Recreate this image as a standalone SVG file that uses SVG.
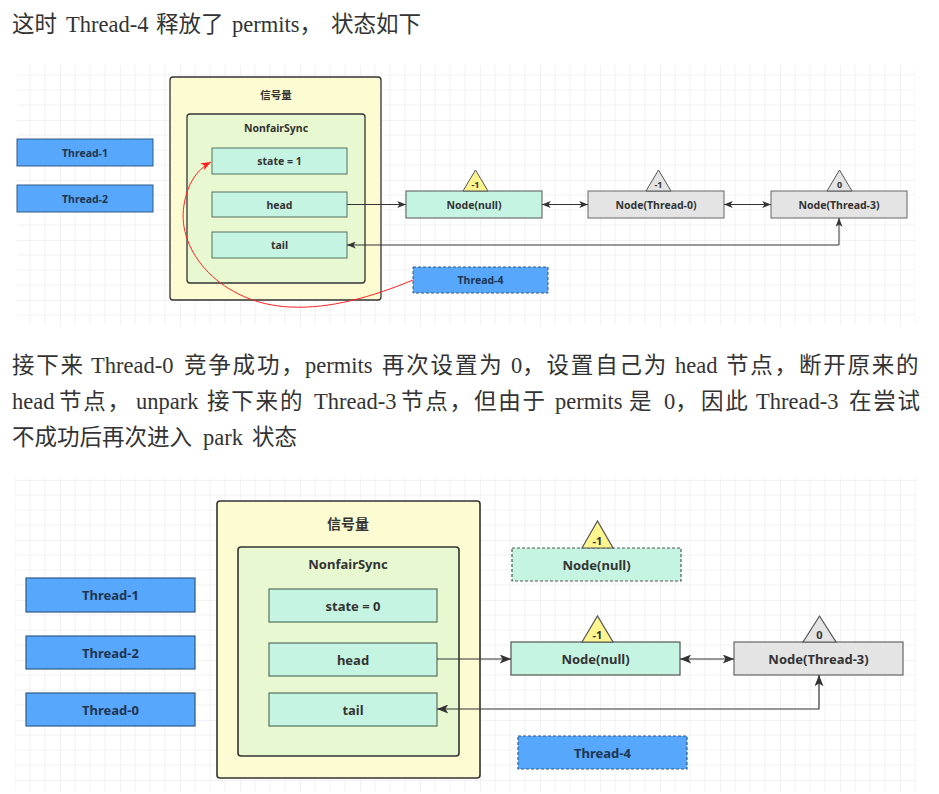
<svg xmlns="http://www.w3.org/2000/svg" width="939" height="794" viewBox="0 0 939 794">
<style>
.para{font-family:"Liberation Serif","Noto Sans CJK SC",serif;font-size:22.5px;fill:#333}
.cj{letter-spacing:1.8px}
.lbl{font-family:"Noto Sans","Noto Sans CJK SC",sans-serif;font-weight:bold;fill:#333;text-anchor:middle;dominant-baseline:central}
.s{font-size:10.5px}
.b{font-size:13px}
.thread{fill:#57a7fd;stroke:#2f5b86}
.dash{stroke-dasharray:3 2}
.outer{fill:#fdfbd2;stroke:#333}
.inner{fill:#e8f8d0;stroke:#333}
.field{fill:#c6f4e2;stroke:#56705f}
.node{fill:#c6f4e2;stroke:#555}
.gnode{fill:#e4e4e4;stroke:#666}
.ytri{fill:#fff68f;stroke:#555}
.gtri{fill:#e4e4e4;stroke:#555}
.tl{fill:#1f3550}
.conn{fill:none;stroke:#333}
</style>
<defs>
<pattern id="grid" width="60" height="60" patternUnits="userSpaceOnUse">
<path d="M15,0V60M30,0V60M45,0V60M0,15H60M0,30H60M0,45H60" stroke="#f2f2f2" stroke-width="1" fill="none"/>
<path d="M0,0V60M0,0H60" stroke="#e6e6e6" stroke-width="1" fill="none"/>
</pattern>
<marker id="a1" viewBox="0 0 10 8" refX="10" refY="4" markerWidth="10" markerHeight="7" markerUnits="userSpaceOnUse" orient="auto-start-reverse"><path d="M0,0 L10,4 L0,8 L2.5,4 z" fill="#333"/></marker>
<marker id="a2" viewBox="0 0 10 8" refX="10" refY="4" markerWidth="12" markerHeight="9" markerUnits="userSpaceOnUse" orient="auto-start-reverse"><path d="M0,0 L10,4 L0,8 L2.5,4 z" fill="#333"/></marker>
<marker id="ar" viewBox="0 0 10 8" refX="10" refY="4" markerWidth="11" markerHeight="8" markerUnits="userSpaceOnUse" orient="auto"><path d="M0,0 L10,4 L0,8 L2.5,4 z" fill="#f22"/></marker>
</defs>
<rect width="939" height="794" fill="#fff"/>

<text class="para" y="32"><tspan x="12">这时 </tspan><tspan x="66">Thread-4 </tspan><tspan x="156">释放了 </tspan><tspan x="232">permits，</tspan><tspan x="331">状态如下</tspan></text>
<text class="para" y="373"><tspan class="cj" x="12">接下来 </tspan><tspan x="91">Thread-0 </tspan><tspan class="cj" x="184">竞争成功，</tspan><tspan x="305">permits </tspan><tspan class="cj" x="382">再次设置为 </tspan><tspan x="511">0</tspan><tspan class="cj">，设置自己为 </tspan><tspan x="675">head </tspan><tspan class="cj" x="726">节点，断开原来的</tspan></text>
<text class="para" y="409"><tspan x="12">head </tspan><tspan class="cj" x="59">节点，</tspan><tspan x="136">unpark </tspan><tspan class="cj" x="207">接下来的 </tspan><tspan x="314">Thread-3 </tspan><tspan class="cj" x="401">节点，但由于 </tspan><tspan x="555">permits </tspan><tspan class="cj" x="629">是 </tspan><tspan x="664">0</tspan><tspan class="cj">，</tspan><tspan class="cj" x="701">因此 </tspan><tspan x="756">Thread-3 </tspan><tspan class="cj" x="849">在尝试</tspan></text>
<text class="para" y="445"><tspan x="12">不成功后再次进入 </tspan><tspan x="203">park </tspan><tspan x="252">状态</tspan></text>

<!-- top diagram -->
<rect x="17" y="65" width="898" height="260" fill="url(#grid)"/>
<g id="t-thread1"><rect class="thread" x="17" y="139" width="136" height="27"/><text class="lbl s tl" x="85" y="152.5">Thread-1</text></g>
<g id="t-thread2"><rect class="thread" x="17" y="185" width="136" height="27"/><text class="lbl s tl" x="85" y="198.5">Thread-2</text></g>
<g id="t-semaphore"><rect class="outer" x="170" y="77" width="211" height="223" rx="3" stroke-width="1.3"/><text class="lbl s" x="276" y="95">信号量</text></g>
<g id="t-sync"><rect class="inner" x="187" y="114" width="178" height="169" rx="3" stroke-width="1.3"/><text class="lbl s" x="276" y="128">NonfairSync</text></g>
<g id="t-state"><rect class="field" x="212" y="148" width="135" height="26"/><text class="lbl s" x="279.5" y="161">state = 1</text></g>
<g id="t-head"><rect class="field" x="212" y="192" width="135" height="25"/><text class="lbl s" x="279.5" y="204.5">head</text></g>
<g id="t-tail"><rect class="field" x="212" y="232" width="135" height="26"/><text class="lbl s" x="279.5" y="245">tail</text></g>
<g id="t-node-null"><rect class="node" x="406" y="191" width="136" height="27"/><text class="lbl s" x="474" y="204.5">Node(null)</text>
<polygon class="ytri" points="463,191 475.5,170 488,191"/><text class="lbl" x="475.5" y="184" font-size="9">-1</text></g>
<g id="t-node-t0"><rect class="gnode" x="588" y="191" width="136" height="27"/><text class="lbl s" x="656" y="204.5">Node(Thread-0)</text>
<polygon class="gtri" points="646,191 658.5,170 671,191"/><text class="lbl" x="658.5" y="184" font-size="9">-1</text></g>
<g id="t-node-t3"><rect class="gnode" x="771" y="191" width="136" height="27"/><text class="lbl s" x="839" y="204.5">Node(Thread-3)</text>
<polygon class="gtri" points="827,191 839.5,170 852,191"/><text class="lbl" x="839.5" y="184" font-size="9">0</text></g>
<g id="t-thread4"><rect class="thread dash" x="413" y="267" width="135" height="26"/><text class="lbl s tl" x="480.5" y="280">Thread-4</text></g>
<g id="top-connectors">
<path class="conn" d="M347,204.5 H406" marker-end="url(#a1)"/>
<path class="conn" d="M542,204.5 H588" marker-start="url(#a1)" marker-end="url(#a1)"/>
<path class="conn" d="M724,204.5 H771" marker-start="url(#a1)" marker-end="url(#a1)"/>
<path class="conn" d="M839,218 V245 H347" marker-start="url(#a1)" marker-end="url(#a1)"/>
<path d="M413,280 C372,297 330,309 290,307 C222,304 176,252 184,205 C187,185 196,170 211,162" fill="none" stroke="#f22" stroke-width="1" marker-end="url(#ar)"/>
</g>

<!-- bottom diagram -->
<rect x="15" y="478" width="901" height="314" fill="url(#grid)"/>
<g id="b-thread1"><rect class="thread" x="26" y="578" width="169" height="34" stroke-width="1.2"/><text class="lbl b tl" x="110.5" y="595">Thread-1</text></g>
<g id="b-thread2"><rect class="thread" x="26" y="636" width="169" height="33" stroke-width="1.2"/><text class="lbl b tl" x="110.5" y="652.5">Thread-2</text></g>
<g id="b-thread0"><rect class="thread" x="26" y="693" width="169" height="33" stroke-width="1.2"/><text class="lbl b tl" x="110.5" y="709.5">Thread-0</text></g>
<g id="b-semaphore"><rect class="outer" x="217" y="501" width="263" height="277" rx="3" stroke-width="1.6"/><text class="lbl" x="348" y="523" font-size="14">信号量</text></g>
<g id="b-sync"><rect class="inner" x="238" y="547" width="221" height="209" rx="3" stroke-width="1.6"/><text class="lbl b" x="348" y="564">NonfairSync</text></g>
<g id="b-state"><rect class="field" x="269" y="589" width="168" height="33" stroke-width="1.2"/><text class="lbl b" x="353" y="605.5">state = 0</text></g>
<g id="b-head"><rect class="field" x="269" y="643" width="168" height="33" stroke-width="1.2"/><text class="lbl b" x="353" y="659.5">head</text></g>
<g id="b-tail"><rect class="field" x="269" y="693" width="168" height="33" stroke-width="1.2"/><text class="lbl b" x="353" y="709.5">tail</text></g>
<g id="b-node-null-old"><rect class="node dash" x="512" y="548" width="169" height="33" stroke-width="1.2"/><text class="lbl b" x="596.5" y="564.5">Node(null)</text>
<polygon class="ytri" points="582,548 597.5,521 613,548" stroke-width="1.2"/><text class="lbl" x="597.5" y="540" font-size="11">-1</text></g>
<g id="b-node-null"><rect class="node" x="511" y="642" width="169" height="33" stroke-width="1.2"/><text class="lbl b" x="595.5" y="658.5">Node(null)</text>
<polygon class="ytri" points="582,642 597.5,616 613,642" stroke-width="1.2"/><text class="lbl" x="597.5" y="634" font-size="11">-1</text></g>
<g id="b-node-t3"><rect class="gnode" x="734" y="642" width="169" height="33" stroke-width="1.2"/><text class="lbl b" x="818.5" y="658.5">Node(Thread-3)</text>
<polygon class="gtri" points="803,642 819.5,616 836,642" stroke-width="1.2"/><text class="lbl" x="819.5" y="634" font-size="11">0</text></g>
<g id="b-thread4"><rect class="thread dash" x="518" y="736" width="169" height="33" stroke-width="1.2"/><text class="lbl b tl" x="602.5" y="752.5">Thread-4</text></g>
<g id="bottom-connectors">
<path class="conn" d="M437,659 H511" stroke-width="1.2" marker-end="url(#a2)"/>
<path class="conn" d="M680,659 H734" stroke-width="1.2" marker-start="url(#a2)" marker-end="url(#a2)"/>
<path class="conn" d="M819,675 V709 H437" stroke-width="1.2" marker-start="url(#a2)" marker-end="url(#a2)"/>
</g>
</svg>
